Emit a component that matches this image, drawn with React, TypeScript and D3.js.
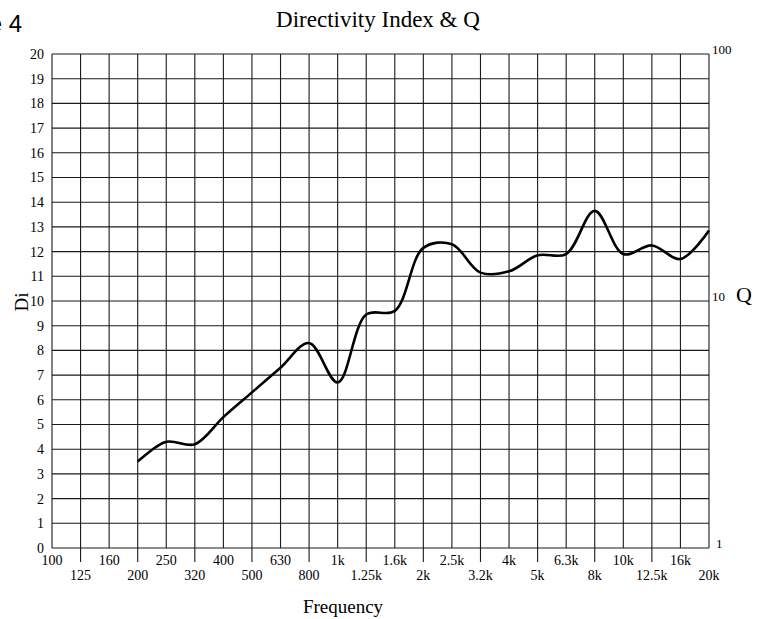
import React, {useEffect, useRef} from "react";
import {select, scalePoint, scaleLinear, scaleLog, line, curveCatmullRom, range} from "d3";

// 1/3 octave bands shown on the frequency axis
const freqLabels = ["100", "125", "160", "200", "250", "320", "400", "500", "630", "800", "1k", "1.25k",
    "1.6k", "2k", "2.5k", "3.2k", "4k", "5k", "6.3k", "8k", "10k", "12.5k", "16k", "20k"];

const diBands = ["200", "250", "320", "400", "500", "630", "800", "1k", "1.25k", "1.6k", "2k", "2.5k",
    "3.2k", "4k", "5k", "6.3k", "8k", "10k", "12.5k", "16k", "20k"];
const diValues = [3.5, 4.3, 4.2, 5.3, 6.3, 7.3, 8.3, 6.7, 9.45, 9.6, 12.15, 12.3,
    11.15, 11.2, 11.85, 11.9, 13.65, 11.9, 12.25, 11.7, 12.85];

const diTicks = range(0, 21);
const qTicks = [1, 10, 100];

const serif = "'Liberation Serif', 'Times New Roman', serif";

function DirectivityChart() {
    const svgRef = useRef<SVGSVGElement>(null);

    useEffect(() => {
        const svg = select(svgRef.current);
        svg.selectAll("*").remove();

        const left = 52, right = 709, top = 54, bottom = 548;

        const x = scalePoint<string>().domain(freqLabels).range([left, right]);
        const y = scaleLinear().domain([0, 20]).range([bottom, top]);
        const q = scaleLog().domain([1, 100]).range([bottom, top]);

        const grid = svg.append("g").attr("stroke", "#1a1a1a").attr("stroke-width", 1.1);

        // horizontal grid
        grid.selectAll(".h")
            .data(diTicks)
            .join("line")
            .attr("x1", left).attr("x2", right)
            .attr("y1", d => y(d)).attr("y2", d => y(d));

        // vertical grid, every other band gets a tick below the axis
        grid.selectAll(".v")
            .data(freqLabels)
            .join("line")
            .attr("x1", d => x(d)!).attr("x2", d => x(d)!)
            .attr("y1", top)
            .attr("y2", (d, i) => (i % 2 === 1 && i < freqLabels.length - 1) ? bottom + 14 : bottom);

        // left Di labels
        svg.append("g")
            .selectAll("text")
            .data(diTicks)
            .join("text")
            .attr("x", left - 8)
            .attr("y", d => y(d))
            .attr("dy", "0.35em")
            .attr("text-anchor", "end")
            .attr("font-family", serif)
            .attr("font-size", 14)
            .text(d => d);

        // right Q labels
        svg.append("g")
            .selectAll("text")
            .data(qTicks)
            .join("text")
            .attr("x", d => d === 1 ? 716 : 712)
            .attr("y", d => q(d))
            .attr("font-family", serif)
            .attr("font-size", 13)
            .text(d => d);

        // frequency labels, two staggered rows
        svg.append("g")
            .selectAll("text")
            .data(freqLabels)
            .join("text")
            .attr("x", d => x(d)!)
            .attr("y", (d, i) => i % 2 === 0 ? 565 : 580)
            .attr("text-anchor", "middle")
            .attr("font-family", serif)
            .attr("font-size", 14)
            .text(d => d);

        const curve = line<number>()
            .x((d, i) => x(diBands[i])!)
            .y(d => y(d))
            .curve(curveCatmullRom.alpha(0.5));

        svg.append("path")
            .datum(diValues)
            .attr("d", curve)
            .attr("fill", "none")
            .attr("stroke", "#000")
            .attr("stroke-width", 2.6)
            .attr("stroke-linejoin", "round");

        // titles
        svg.append("text")
            .attr("x", 378).attr("y", 27)
            .attr("text-anchor", "middle")
            .attr("font-family", serif)
            .attr("font-size", 23)
            .text("Directivity Index & Q");

        svg.append("text")
            .attr("x", 22).attr("y", 32)
            .attr("text-anchor", "end")
            .attr("font-family", "'Liberation Sans', Arial, sans-serif")
            .attr("font-size", 24)
            .text("Figure 4");

        svg.append("text")
            .attr("x", 343).attr("y", 613)
            .attr("text-anchor", "middle")
            .attr("font-family", serif)
            .attr("font-size", 19)
            .text("Frequency");

        svg.append("text")
            .attr("transform", "translate(28, 302) rotate(-90)")
            .attr("text-anchor", "middle")
            .attr("font-family", serif)
            .attr("font-size", 19)
            .text("Di");

        svg.append("text")
            .attr("x", 736).attr("y", 302)
            .attr("font-family", serif)
            .attr("font-size", 22)
            .text("Q");
    }, []);

    return (
        <svg ref={svgRef} width={760} height={619}
             style={{position: "absolute", left: 0, top: 0, background: "#fff"}}/>
    );
}

export default function App() {
    return <DirectivityChart/>;
}
